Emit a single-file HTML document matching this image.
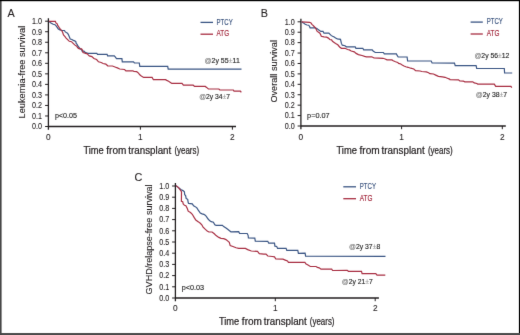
<!DOCTYPE html>
<html><head><meta charset="utf-8"><style>
html,body{margin:0;padding:0;background:#fff;}
body{width:520px;height:335px;overflow:hidden;}
svg{display:block;} #wrap{width:520px;height:335px;will-change:transform;}
text{font-family:"Liberation Sans", sans-serif;}
</style></head><body>
<div id="wrap"><svg width="520" height="335" viewBox="0 0 520 335" fill="#231f20">
<defs><filter id="bl" x="0" y="0" width="520" height="335" filterUnits="userSpaceOnUse" color-interpolation-filters="sRGB"><feConvolveMatrix order="3" kernelMatrix="0.00524 0.06192 0.00524 0.06192 0.73137 0.06192 0.00524 0.06192 0.00524" edgeMode="duplicate"/></filter></defs>
<g filter="url(#bl)">
<rect x="0" y="0" width="520" height="335" fill="#fff"/>
<text x="7.6" y="17.2" font-size="10.8" stroke="#231f20" stroke-width="0.1">A</text>
<path d="M48.4,18.2 V129.7 M47.699999999999996,126.5 H236" stroke="#231f20" stroke-width="1.3" fill="none"/>
<path d="M45.1,21.20 H48.4 M45.1,31.73 H48.4 M45.1,42.26 H48.4 M45.1,52.79 H48.4 M45.1,63.32 H48.4 M45.1,73.85 H48.4 M45.1,84.38 H48.4 M45.1,94.91 H48.4 M45.1,105.44 H48.4 M45.1,115.97 H48.4 M45.1,126.50 H48.4 M140.40,126.5 V129.7 M232.40,126.5 V129.7 " stroke="#231f20" stroke-width="1" fill="none"/>
<text x="41.9" y="24.10" text-anchor="end" font-size="8.3" textLength="10.0" lengthAdjust="spacingAndGlyphs" stroke="#231f20" stroke-width="0.1">1.0</text>
<text x="41.9" y="34.63" text-anchor="end" font-size="8.3" textLength="10.0" lengthAdjust="spacingAndGlyphs" stroke="#231f20" stroke-width="0.1">0.9</text>
<text x="41.9" y="45.16" text-anchor="end" font-size="8.3" textLength="10.0" lengthAdjust="spacingAndGlyphs" stroke="#231f20" stroke-width="0.1">0.8</text>
<text x="41.9" y="55.69" text-anchor="end" font-size="8.3" textLength="10.0" lengthAdjust="spacingAndGlyphs" stroke="#231f20" stroke-width="0.1">0.7</text>
<text x="41.9" y="66.22" text-anchor="end" font-size="8.3" textLength="10.0" lengthAdjust="spacingAndGlyphs" stroke="#231f20" stroke-width="0.1">0.6</text>
<text x="41.9" y="76.75" text-anchor="end" font-size="8.3" textLength="10.0" lengthAdjust="spacingAndGlyphs" stroke="#231f20" stroke-width="0.1">0.5</text>
<text x="41.9" y="87.28" text-anchor="end" font-size="8.3" textLength="10.0" lengthAdjust="spacingAndGlyphs" stroke="#231f20" stroke-width="0.1">0.4</text>
<text x="41.9" y="97.81" text-anchor="end" font-size="8.3" textLength="10.0" lengthAdjust="spacingAndGlyphs" stroke="#231f20" stroke-width="0.1">0.3</text>
<text x="41.9" y="108.34" text-anchor="end" font-size="8.3" textLength="10.0" lengthAdjust="spacingAndGlyphs" stroke="#231f20" stroke-width="0.1">0.2</text>
<text x="41.9" y="118.87" text-anchor="end" font-size="8.3" textLength="10.0" lengthAdjust="spacingAndGlyphs" stroke="#231f20" stroke-width="0.1">0.1</text>
<text x="41.9" y="129.40" text-anchor="end" font-size="8.3" textLength="10.0" lengthAdjust="spacingAndGlyphs" stroke="#231f20" stroke-width="0.1">0.0</text>
<text x="48.40" y="139.6" text-anchor="middle" font-size="8.3" stroke="#231f20" stroke-width="0.1">0</text>
<text x="140.40" y="139.6" text-anchor="middle" font-size="8.3" stroke="#231f20" stroke-width="0.1">1</text>
<text x="232.40" y="139.6" text-anchor="middle" font-size="8.3" stroke="#231f20" stroke-width="0.1">2</text>
<text x="83.40" y="153.6" font-size="10.1" textLength="20.29" lengthAdjust="spacingAndGlyphs" stroke="#231f20" stroke-width="0.22">Time</text>
<text x="106.30" y="153.6" font-size="10.1" textLength="20.09" lengthAdjust="spacingAndGlyphs" stroke="#231f20" stroke-width="0.22">from</text>
<text x="128.29" y="153.6" font-size="10.1" textLength="42.99" lengthAdjust="spacingAndGlyphs" stroke="#231f20" stroke-width="0.22">transplant</text>
<text x="174.39" y="153.6" font-size="10.1" textLength="24.71" lengthAdjust="spacingAndGlyphs" stroke="#231f20" stroke-width="0.22">(years)</text>
<text transform="translate(24.5,118.4) rotate(-90)" x="0" y="0" font-size="9.3" textLength="92.60000000000001" lengthAdjust="spacingAndGlyphs" stroke="#231f20" stroke-width="0.1">Leukemia-free survival</text>
<path d="M200.5,22.4 H213" stroke="#3a5584" stroke-width="1.3"/>
<path d="M200.5,34.2 H213" stroke="#a82e42" stroke-width="1.3"/>
<text x="216.6" y="24.75" font-size="8.5" fill="#37507c" textLength="16.1" lengthAdjust="spacingAndGlyphs" stroke="#37507c" stroke-width="0.15">PTCY</text>
<text x="216.6" y="36.25" font-size="8.5" fill="#a2263b" textLength="12.6" lengthAdjust="spacingAndGlyphs" stroke="#a2263b" stroke-width="0.15">ATG</text>
<polyline points="48.9,21.4 50.5,22.7 51.8,23.4 53.2,24.3 55.0,24.7 56.3,26.1 57.2,27.4 58.1,28.7 59.4,29.6 61.7,30.5 64.4,30.5 65.3,31.9 67.5,33.2 68.4,34.6 69.3,36.8 70.2,39.0 72.0,39.5 73.3,40.4 74.7,40.8 75.8,41.7 76.2,43.5 77.1,44.4 78.0,46.2 80.3,48.9 81.6,49.8 82.1,51.1 83.9,51.1 84.7,52.0 86.5,52.9 87.9,53.4 96.8,53.4 97.5,54.4 107.1,54.4 107.6,55.9 114.3,55.9 115.2,56.9 116.5,58.6 121.9,58.6 122.3,61.9 133.5,61.9 134.4,63.0 139.3,63.0 139.8,66.3 167.7,66.3 168.2,69.1 241.5,69.1" fill="none" stroke="#3a5584" stroke-width="1.2"/>
<polyline points="48.9,21.4 55.4,21.4 55.9,22.9 57.2,23.8 57.6,25.2 58.5,26.5 59.4,27.9 60.3,29.2 61.7,30.5 62.6,32.3 63.5,35.0 64.8,36.4 66.1,38.1 67.9,39.9 69.3,41.3 71.5,41.7 72.9,43.1 74.7,44.9 76.7,46.2 77.6,47.5 78.5,48.4 79.8,48.9 81.6,48.9 82.5,50.2 83.0,52.5 84.3,52.9 85.6,53.4 87.4,53.8 88.0,54.6 89.3,55.9 91.9,56.6 93.9,58.5 96.6,59.5 98.5,61.8 101.2,62.5 103.1,63.5 105.8,64.1 107.7,65.8 112.5,66.0 115.6,67.2 117.4,67.9 119.7,69.0 124.6,69.5 125.9,70.8 132.6,70.8 134.0,71.4 136.7,71.7 138.5,73.1 139.8,74.8 141.3,76.1 143.6,77.4 152.1,77.4 153.4,79.7 165.5,79.7 166.8,80.4 168.6,81.3 170.4,82.4 171.8,83.4 182.0,83.4 183.4,85.2 193.2,85.2 194.6,86.4 205.3,86.4 206.6,87.4 208.4,89.0 218.9,89.0 219.8,90.0 233.3,90.0 234.0,91.1 240.4,91.1 241.3,92.4" fill="none" stroke="#a82e42" stroke-width="1.2"/>
<text x="204.4" y="63.40" font-size="7.9" fill="#2a2a2a" textLength="35.400000000000006" lengthAdjust="spacingAndGlyphs" stroke="#2a2a2a" stroke-width="0.16"><tspan fill="#7d7d7d" stroke="#7d7d7d">@</tspan>2y 55<tspan fill="#999" stroke="#999">±</tspan>11</text>
<text x="199.2" y="98.50" font-size="7.9" fill="#2a2a2a" textLength="30.900000000000006" lengthAdjust="spacingAndGlyphs" stroke="#2a2a2a" stroke-width="0.16"><tspan fill="#7d7d7d" stroke="#7d7d7d">@</tspan>2y 34<tspan fill="#999" stroke="#999">±</tspan>7</text>
<text x="54.9" y="117.80" font-size="7.9" fill="#2a2a2a" textLength="22.1" lengthAdjust="spacingAndGlyphs" stroke="#2a2a2a" stroke-width="0.16">p&lt;0.05</text>
<text x="260.8" y="17.3" font-size="10.8" stroke="#231f20" stroke-width="0.1">B</text>
<path d="M300.9,18.8 V129.2 M300.2,126.0 H505.8" stroke="#231f20" stroke-width="1.3" fill="none"/>
<path d="M297.59999999999997,21.80 H300.9 M297.59999999999997,32.22 H300.9 M297.59999999999997,42.64 H300.9 M297.59999999999997,53.06 H300.9 M297.59999999999997,63.48 H300.9 M297.59999999999997,73.90 H300.9 M297.59999999999997,84.32 H300.9 M297.59999999999997,94.74 H300.9 M297.59999999999997,105.16 H300.9 M297.59999999999997,115.58 H300.9 M297.59999999999997,126.00 H300.9 M401.60,126.0 V129.2 M502.30,126.0 V129.2 " stroke="#231f20" stroke-width="1" fill="none"/>
<text x="294.7" y="24.60" text-anchor="end" font-size="8.3" textLength="10.0" lengthAdjust="spacingAndGlyphs" stroke="#231f20" stroke-width="0.1">1.0</text>
<text x="294.7" y="35.02" text-anchor="end" font-size="8.3" textLength="10.0" lengthAdjust="spacingAndGlyphs" stroke="#231f20" stroke-width="0.1">0.9</text>
<text x="294.7" y="45.44" text-anchor="end" font-size="8.3" textLength="10.0" lengthAdjust="spacingAndGlyphs" stroke="#231f20" stroke-width="0.1">0.8</text>
<text x="294.7" y="55.86" text-anchor="end" font-size="8.3" textLength="10.0" lengthAdjust="spacingAndGlyphs" stroke="#231f20" stroke-width="0.1">0.7</text>
<text x="294.7" y="66.28" text-anchor="end" font-size="8.3" textLength="10.0" lengthAdjust="spacingAndGlyphs" stroke="#231f20" stroke-width="0.1">0.6</text>
<text x="294.7" y="76.70" text-anchor="end" font-size="8.3" textLength="10.0" lengthAdjust="spacingAndGlyphs" stroke="#231f20" stroke-width="0.1">0.5</text>
<text x="294.7" y="87.12" text-anchor="end" font-size="8.3" textLength="10.0" lengthAdjust="spacingAndGlyphs" stroke="#231f20" stroke-width="0.1">0.4</text>
<text x="294.7" y="97.54" text-anchor="end" font-size="8.3" textLength="10.0" lengthAdjust="spacingAndGlyphs" stroke="#231f20" stroke-width="0.1">0.3</text>
<text x="294.7" y="107.96" text-anchor="end" font-size="8.3" textLength="10.0" lengthAdjust="spacingAndGlyphs" stroke="#231f20" stroke-width="0.1">0.2</text>
<text x="294.7" y="118.38" text-anchor="end" font-size="8.3" textLength="10.0" lengthAdjust="spacingAndGlyphs" stroke="#231f20" stroke-width="0.1">0.1</text>
<text x="294.7" y="128.80" text-anchor="end" font-size="8.3" textLength="10.0" lengthAdjust="spacingAndGlyphs" stroke="#231f20" stroke-width="0.1">0.0</text>
<text x="300.90" y="139.5" text-anchor="middle" font-size="8.3" stroke="#231f20" stroke-width="0.1">0</text>
<text x="401.60" y="139.5" text-anchor="middle" font-size="8.3" stroke="#231f20" stroke-width="0.1">1</text>
<text x="502.30" y="139.5" text-anchor="middle" font-size="8.3" stroke="#231f20" stroke-width="0.1">2</text>
<text x="336.50" y="153.7" font-size="10.1" textLength="20.38" lengthAdjust="spacingAndGlyphs" stroke="#231f20" stroke-width="0.22">Time</text>
<text x="359.49" y="153.7" font-size="10.1" textLength="20.17" lengthAdjust="spacingAndGlyphs" stroke="#231f20" stroke-width="0.22">from</text>
<text x="381.59" y="153.7" font-size="10.1" textLength="43.17" lengthAdjust="spacingAndGlyphs" stroke="#231f20" stroke-width="0.22">transplant</text>
<text x="427.89" y="153.7" font-size="10.1" textLength="24.81" lengthAdjust="spacingAndGlyphs" stroke="#231f20" stroke-width="0.22">(years)</text>
<text transform="translate(277.3,102.6) rotate(-90)" x="0" y="0" font-size="9.3" textLength="62.599999999999994" lengthAdjust="spacingAndGlyphs" stroke="#231f20" stroke-width="0.1">Overall survival</text>
<path d="M470.6,22.1 H482.8" stroke="#3a5584" stroke-width="1.3"/>
<path d="M470.6,34 H482.8" stroke="#a82e42" stroke-width="1.3"/>
<text x="486.8" y="24.450000000000003" font-size="8.5" fill="#37507c" textLength="16.1" lengthAdjust="spacingAndGlyphs" stroke="#37507c" stroke-width="0.15">PTCY</text>
<text x="486.8" y="36.05" font-size="8.5" fill="#a2263b" textLength="12.7" lengthAdjust="spacingAndGlyphs" stroke="#a2263b" stroke-width="0.15">ATG</text>
<polyline points="301.6,21.8 303.4,22.9 305.2,24.3 307.0,25.0 308.7,25.2 309.6,26.5 310.1,27.8 315.4,27.8 317.2,28.7 318.1,29.6 319.5,30.5 320.8,31.4 323.0,31.4 324.0,33.2 328.9,33.2 329.8,34.1 331.1,35.4 332.5,36.3 333.8,36.8 335.6,38.1 337.3,38.9 340.5,39.4 341.4,43.4 342.3,45.2 345.0,45.7 346.3,46.8 355.2,46.8 355.9,48.3 362.8,48.3 363.7,49.9 372.2,49.9 373.1,51.0 375.3,52.5 383.4,52.5 384.3,53.9 396.4,53.9 397.3,55.7 398.2,57.0 407.1,57.0 407.6,61.0 431.2,61.0 432.1,63.0 454.5,63.2 455.2,65.6 476.1,65.6 476.7,68.4 504.3,68.5 504.6,73.0 512.2,73.0" fill="none" stroke="#3a5584" stroke-width="1.2"/>
<polyline points="301.6,21.8 309.6,22.3 311.0,22.9 311.9,24.3 312.8,25.2 314.1,26.5 315.4,27.8 316.3,29.6 317.2,31.4 318.6,32.3 319.9,33.2 320.8,35.0 321.3,36.3 324.0,36.8 326.6,37.2 328.4,38.1 329.8,39.5 331.6,39.9 332.5,41.3 333.8,42.2 335.6,43.5 337.8,44.8 339.6,47.0 341.4,48.3 345.0,48.3 347.6,49.5 349.4,49.9 351.2,51.0 354.3,51.9 356.1,53.4 358.4,54.6 362.0,55.5 364.6,56.4 366.4,56.8 371.8,56.8 373.6,57.7 374.0,57.9 383.0,58.3 385.2,59.0 387.0,59.9 391.9,59.9 393.2,60.8 395.5,61.7 397.7,62.4 398.6,63.4 400.8,64.0 402.2,65.1 404.0,66.0 405.8,66.8 408.0,67.3 410.7,68.2 413.8,69.0 415.6,70.6 420.1,71.0 421.8,71.5 426.3,71.9 428.6,72.8 429.9,73.7 433.5,74.0 435.7,75.1 438.4,76.4 442.4,76.8 445.1,77.3 447.3,78.2 449.6,79.1 450.0,79.6 458.5,79.9 459.8,81.0 463.4,81.2 464.8,81.8 472.8,81.8 474.2,82.9 476.8,83.5 477.7,84.1 494.3,84.1 495.7,86.4 510.9,86.4 511.8,87.7" fill="none" stroke="#a82e42" stroke-width="1.2"/>
<text x="474.4" y="58.40" font-size="7.9" fill="#2a2a2a" textLength="35.0" lengthAdjust="spacingAndGlyphs" stroke="#2a2a2a" stroke-width="0.16"><tspan fill="#7d7d7d" stroke="#7d7d7d">@</tspan>2y 56<tspan fill="#999" stroke="#999">±</tspan>12</text>
<text x="475.8" y="96.50" font-size="7.9" fill="#2a2a2a" textLength="31.30000000000001" lengthAdjust="spacingAndGlyphs" stroke="#2a2a2a" stroke-width="0.16"><tspan fill="#7d7d7d" stroke="#7d7d7d">@</tspan>2y 38<tspan fill="#999" stroke="#999">±</tspan>7</text>
<text x="307.1" y="118.00" font-size="7.9" fill="#2a2a2a" textLength="22.599999999999966" lengthAdjust="spacingAndGlyphs" stroke="#2a2a2a" stroke-width="0.16">p=0.07</text>
<text x="134.6" y="181.4" font-size="10.8" stroke="#231f20" stroke-width="0.1">C</text>
<path d="M175.4,183.0 V301.2 M174.70000000000002,298.0 H378.9" stroke="#231f20" stroke-width="1.3" fill="none"/>
<path d="M172.1,186.00 H175.4 M172.1,197.20 H175.4 M172.1,208.40 H175.4 M172.1,219.60 H175.4 M172.1,230.80 H175.4 M172.1,242.00 H175.4 M172.1,253.20 H175.4 M172.1,264.40 H175.4 M172.1,275.60 H175.4 M172.1,286.80 H175.4 M172.1,298.00 H175.4 M275.30,298.0 V301.2 M375.20,298.0 V301.2 " stroke="#231f20" stroke-width="1" fill="none"/>
<text x="169.3" y="188.75" text-anchor="end" font-size="8.3" textLength="10.0" lengthAdjust="spacingAndGlyphs" stroke="#231f20" stroke-width="0.1">1.0</text>
<text x="169.3" y="199.95" text-anchor="end" font-size="8.3" textLength="10.0" lengthAdjust="spacingAndGlyphs" stroke="#231f20" stroke-width="0.1">0.9</text>
<text x="169.3" y="211.15" text-anchor="end" font-size="8.3" textLength="10.0" lengthAdjust="spacingAndGlyphs" stroke="#231f20" stroke-width="0.1">0.8</text>
<text x="169.3" y="222.35" text-anchor="end" font-size="8.3" textLength="10.0" lengthAdjust="spacingAndGlyphs" stroke="#231f20" stroke-width="0.1">0.7</text>
<text x="169.3" y="233.55" text-anchor="end" font-size="8.3" textLength="10.0" lengthAdjust="spacingAndGlyphs" stroke="#231f20" stroke-width="0.1">0.6</text>
<text x="169.3" y="244.75" text-anchor="end" font-size="8.3" textLength="10.0" lengthAdjust="spacingAndGlyphs" stroke="#231f20" stroke-width="0.1">0.5</text>
<text x="169.3" y="255.95" text-anchor="end" font-size="8.3" textLength="10.0" lengthAdjust="spacingAndGlyphs" stroke="#231f20" stroke-width="0.1">0.4</text>
<text x="169.3" y="267.15" text-anchor="end" font-size="8.3" textLength="10.0" lengthAdjust="spacingAndGlyphs" stroke="#231f20" stroke-width="0.1">0.3</text>
<text x="169.3" y="278.35" text-anchor="end" font-size="8.3" textLength="10.0" lengthAdjust="spacingAndGlyphs" stroke="#231f20" stroke-width="0.1">0.2</text>
<text x="169.3" y="289.55" text-anchor="end" font-size="8.3" textLength="10.0" lengthAdjust="spacingAndGlyphs" stroke="#231f20" stroke-width="0.1">0.1</text>
<text x="169.3" y="300.75" text-anchor="end" font-size="8.3" textLength="10.0" lengthAdjust="spacingAndGlyphs" stroke="#231f20" stroke-width="0.1">0.0</text>
<text x="175.40" y="311.2" text-anchor="middle" font-size="8.3" stroke="#231f20" stroke-width="0.1">0</text>
<text x="275.30" y="311.2" text-anchor="middle" font-size="8.3" stroke="#231f20" stroke-width="0.1">1</text>
<text x="375.20" y="311.2" text-anchor="middle" font-size="8.3" stroke="#231f20" stroke-width="0.1">2</text>
<text x="219.00" y="325.0" font-size="10.1" textLength="20.25" lengthAdjust="spacingAndGlyphs" stroke="#231f20" stroke-width="0.22">Time</text>
<text x="241.86" y="325.0" font-size="10.1" textLength="20.05" lengthAdjust="spacingAndGlyphs" stroke="#231f20" stroke-width="0.22">from</text>
<text x="263.82" y="325.0" font-size="10.1" textLength="42.91" lengthAdjust="spacingAndGlyphs" stroke="#231f20" stroke-width="0.22">transplant</text>
<text x="309.84" y="325.0" font-size="10.1" textLength="24.66" lengthAdjust="spacingAndGlyphs" stroke="#231f20" stroke-width="0.22">(years)</text>
<text transform="translate(152.1,294.4) rotate(-90)" x="0" y="0" font-size="9.3" textLength="109.89999999999998" lengthAdjust="spacingAndGlyphs" stroke="#231f20" stroke-width="0.1">GVHD/relapse-free survival</text>
<path d="M343.3,186.8 H356" stroke="#3a5584" stroke-width="1.3"/>
<path d="M343.3,198.7 H356" stroke="#a82e42" stroke-width="1.3"/>
<text x="359.8" y="189.15" font-size="8.5" fill="#37507c" textLength="16.2" lengthAdjust="spacingAndGlyphs" stroke="#37507c" stroke-width="0.15">PTCY</text>
<text x="359.8" y="200.75" font-size="8.5" fill="#a2263b" textLength="12.7" lengthAdjust="spacingAndGlyphs" stroke="#a2263b" stroke-width="0.15">ATG</text>
<polyline points="176.0,185.6 181.2,189.7 183.0,190.6 184.4,191.8 184.7,194.7 185.6,195.6 186.2,198.6 187.7,199.3 188.2,202.5 188.6,203.4 192.3,203.8 193.6,205.8 196.7,207.6 198.1,209.8 200.3,213.0 202.1,213.9 203.9,214.3 205.2,215.2 206.3,216.3 208.1,219.0 209.8,220.8 211.2,221.7 213.4,222.2 214.8,224.8 216.1,225.3 222.4,225.3 223.7,226.6 226.0,228.0 227.7,229.3 229.5,230.7 230.9,231.8 238.7,231.7 239.6,233.5 247.2,233.5 248.1,235.3 248.4,238.0 254.8,238.2 255.3,241.1 267.8,241.3 268.7,243.2 274.5,243.2 274.9,246.2 276.7,246.5 277.6,248.4 286.1,248.4 286.8,250.4 297.8,250.4 298.4,253.3 305.1,253.2 305.6,256.2 385.5,256.3" fill="none" stroke="#3a5584" stroke-width="1.2"/>
<polyline points="176.0,185.6 178.5,187.6 181.2,191.2 181.5,191.9 181.4,201.3 182.7,201.7 183.2,203.9 184.5,205.3 185.9,205.7 186.4,206.7 187.3,208.5 188.2,211.2 190.5,212.5 192.3,214.3 194.1,217.4 195.8,220.1 198.5,221.9 200.3,223.3 201.8,224.8 203.1,227.1 204.9,228.9 207.2,231.1 208.9,232.0 212.1,232.0 214.3,233.8 216.1,235.6 218.8,237.4 221.0,238.3 223.7,238.7 226.0,239.6 228.2,241.4 229.3,242.4 230.2,245.6 232.9,246.5 236.1,247.8 238.7,248.4 245.4,248.4 247.7,249.6 251.3,251.0 257.5,251.4 259.3,253.6 263.8,254.1 266.0,254.2 267.8,256.0 272.3,256.5 274.5,256.9 275.8,259.0 283.0,259.2 285.2,260.1 287.5,261.0 288.4,262.3 304.9,262.3 305.8,263.8 308.0,265.1 310.3,266.5 316.1,266.5 317.4,267.4 319.2,267.8 321.0,269.2 331.7,269.2 332.6,270.5 347.2,270.3 348.4,271.3 361.5,271.3 362.1,273.6 375.8,273.6 377.0,275.1 385.3,275.1" fill="none" stroke="#a82e42" stroke-width="1.2"/>
<text x="349" y="249.40" font-size="7.9" fill="#2a2a2a" textLength="31.19999999999999" lengthAdjust="spacingAndGlyphs" stroke="#2a2a2a" stroke-width="0.16"><tspan fill="#7d7d7d" stroke="#7d7d7d">@</tspan>2y 37<tspan fill="#999" stroke="#999">±</tspan>8</text>
<text x="341.8" y="283.80" font-size="7.9" fill="#2a2a2a" textLength="31.0" lengthAdjust="spacingAndGlyphs" stroke="#2a2a2a" stroke-width="0.16"><tspan fill="#7d7d7d" stroke="#7d7d7d">@</tspan>2y 21<tspan fill="#999" stroke="#999">±</tspan>7</text>
<text x="181.7" y="289.90" font-size="7.9" fill="#2a2a2a" textLength="22.400000000000006" lengthAdjust="spacingAndGlyphs" stroke="#2a2a2a" stroke-width="0.16">p&lt;0.03</text>
<rect x="0" y="333" width="520" height="2" fill="#4d4d4d"/>
<rect x="0" y="0" width="1.6" height="335" fill="#474747"/>
<rect x="0" y="0" width="520" height="1.2" fill="#000"/>
<rect x="518.9" y="0" width="1.1" height="333" fill="#000"/>
</g></svg></div>
</body></html>
